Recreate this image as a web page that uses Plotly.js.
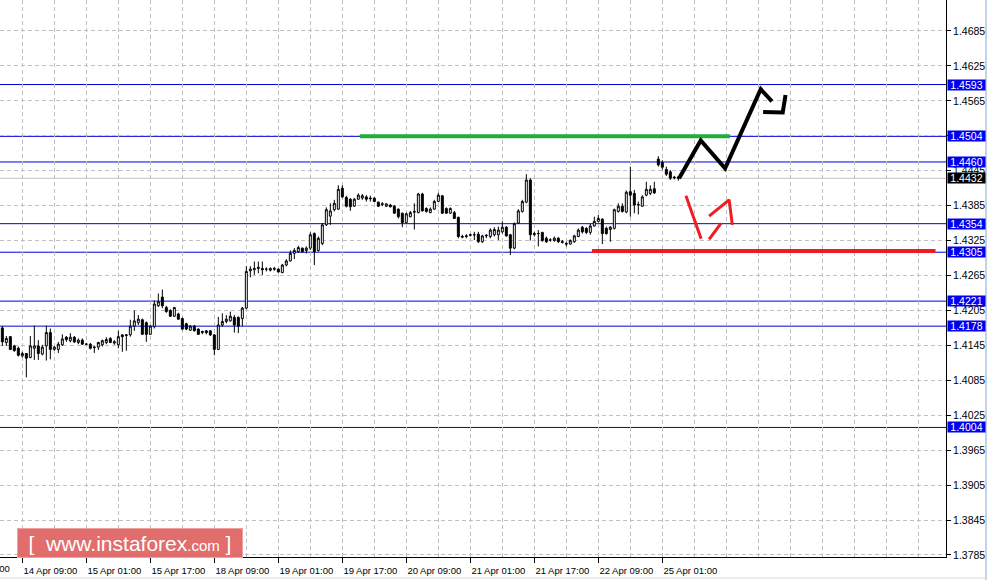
<!DOCTYPE html>
<html><head><meta charset="utf-8">
<script src="https://cdn.plot.ly/plotly-3.0.1.min.js"></script>
<style>html,body{margin:0;padding:0;background:#fff;} #chart{width:988px;height:580px;}</style>
</head><body><div id="chart"></div>
<script>
// H1 candles, oldest first (index 0 = 14 Apr 04:00)
const openP = [1.4175,1.4150,1.4160,1.4144,1.4140,1.4127,1.4131,1.4124,1.4140,1.4144,
1.4130,1.4144,1.4167,1.4138,1.4138,1.4146,1.4159,1.4153,1.4159,1.4150,
1.4154,1.4147,1.4147,1.4141,1.4142,1.4146,1.4150,1.4157,1.4149,1.4146,
1.4163,1.4162,1.4163,1.4178,1.4184,1.4189,1.4184,1.4164,1.4177,1.4213,
1.4228,1.4210,1.4205,1.4195,1.4199,1.4191,1.4182,1.4171,1.4178,1.4173,
1.4167,1.4170,1.4170,1.4163,1.4138,1.4180,1.4186,1.4187,1.4193,1.4193,
1.4191,1.4209,1.4273,1.4275,1.4277,1.4277,1.4276,1.4274,1.4277,1.4276,
1.4270,1.4283,1.4290,1.4303,1.4306,1.4312,1.4308,1.4312,1.4337,1.4308,
1.4320,1.4352,1.4367,1.4378,1.4379,1.4415,1.4399,1.4396,1.4384,1.4396,
1.4398,1.4400,1.4398,1.4398,1.4391,1.4387,1.4384,1.4386,1.4384,1.4379,
1.4372,1.4356,1.4366,1.4375,1.4373,1.4405,1.4380,1.4373,1.4379,1.4392,
1.4402,1.4380,1.4372,1.4373,1.4365,1.4332,1.4332,1.4334,1.4335,1.4336,
1.4323,1.4333,1.4332,1.4335,1.4335,1.4340,1.4348,1.4335,1.4312,1.4355,
1.4375,1.4391,1.4429,1.4335,1.4337,1.4339,1.4329,1.4326,1.4325,1.4329,
1.4323,1.4320,1.4319,1.4323,1.4332,1.4348,1.4346,1.4339,1.4350,1.4358,
1.4362,1.4346,1.4344,1.4346,1.4375,1.4384,1.4374,1.4409,1.4406,1.4386,
1.4384,1.4403,1.4406,1.4414,1.4465,1.4459,1.4447,1.4443,1.4434,1.4434];
const highP = [1.4178,1.4161,1.4161,1.4146,1.4143,1.4134,1.4132,1.4161,1.4179,1.4154,
1.4146,1.4179,1.4174,1.4144,1.4151,1.4164,1.4161,1.4166,1.4161,1.4157,
1.4157,1.4149,1.4149,1.4144,1.4151,1.4155,1.4159,1.4159,1.4154,1.4170,
1.4164,1.4164,1.4189,1.4205,1.4197,1.4191,1.4186,1.4180,1.4222,1.4234,
1.4241,1.4213,1.4207,1.4211,1.4201,1.4193,1.4184,1.4180,1.4180,1.4174,
1.4170,1.4171,1.4171,1.4164,1.4194,1.4200,1.4197,1.4203,1.4197,1.4195,
1.4211,1.4281,1.4281,1.4289,1.4289,1.4289,1.4279,1.4279,1.4280,1.4277,
1.4285,1.4293,1.4308,1.4312,1.4316,1.4313,1.4315,1.4339,1.4339,1.4332,
1.4355,1.4382,1.4389,1.4395,1.4420,1.4420,1.4402,1.4398,1.4398,1.4406,
1.4405,1.4403,1.4402,1.4399,1.4392,1.4391,1.4389,1.4388,1.4386,1.4380,
1.4373,1.4373,1.4376,1.4389,1.4407,1.4407,1.4382,1.4382,1.4395,1.4407,
1.4403,1.4382,1.4382,1.4376,1.4366,1.4335,1.4336,1.4337,1.4340,1.4340,
1.4335,1.4336,1.4346,1.4348,1.4349,1.4358,1.4350,1.4336,1.4356,1.4379,
1.4395,1.4439,1.4432,1.4340,1.4343,1.4340,1.4332,1.4329,1.4332,1.4331,
1.4326,1.4323,1.4327,1.4335,1.4346,1.4350,1.4348,1.4354,1.4366,1.4369,
1.4363,1.4349,1.4350,1.4380,1.4389,1.4389,1.4411,1.4452,1.4412,1.4392,
1.4403,1.4426,1.4420,1.4426,1.4470,1.4463,1.4452,1.4446,1.4436,1.4436];
const lowP = [1.4144,1.4144,1.4137,1.4134,1.4126,1.4124,1.4090,1.4123,1.4120,1.4120,
1.4128,1.4119,1.4121,1.4136,1.4132,1.4144,1.4151,1.4150,1.4149,1.4147,
1.4146,1.4146,1.4138,1.4132,1.4137,1.4143,1.4147,1.4149,1.4146,1.4140,
1.4134,1.4136,1.4160,1.4170,1.4180,1.4163,1.4151,1.4163,1.4174,1.4211,
1.4209,1.4201,1.4194,1.4194,1.4189,1.4171,1.4171,1.4170,1.4169,1.4163,
1.4164,1.4164,1.4161,1.4128,1.4137,1.4177,1.4183,1.4186,1.4167,1.4166,
1.4178,1.4207,1.4262,1.4266,1.4269,1.4266,1.4272,1.4272,1.4273,1.4270,
1.4269,1.4281,1.4289,1.4293,1.4304,1.4304,1.4303,1.4309,1.4283,1.4306,
1.4317,1.4350,1.4352,1.4375,1.4378,1.4398,1.4382,1.4376,1.4383,1.4395,
1.4395,1.4392,1.4392,1.4391,1.4383,1.4384,1.4383,1.4382,1.4371,1.4363,
1.4348,1.4355,1.4365,1.4344,1.4372,1.4375,1.4373,1.4372,1.4378,1.4391,
1.4371,1.4371,1.4371,1.4362,1.4329,1.4329,1.4329,1.4332,1.4326,1.4321,
1.4321,1.4329,1.4329,1.4332,1.4326,1.4337,1.4332,1.4300,1.4310,1.4354,
1.4373,1.4389,1.4325,1.4332,1.4315,1.4323,1.4321,1.4323,1.4323,1.4321,
1.4320,1.4315,1.4318,1.4321,1.4331,1.4337,1.4336,1.4335,1.4349,1.4356,
1.4319,1.4335,1.4323,1.4344,1.4373,1.4373,1.4372,1.4366,1.4372,1.4370,
1.4383,1.4401,1.4403,1.4405,1.4452,1.4447,1.4436,1.4429,1.4430,1.4428];
const closeP = [1.4151,1.4157,1.4138,1.4136,1.4128,1.4131,1.4123,1.4144,1.4144,1.4131,
1.4142,1.4167,1.4138,1.4142,1.4147,1.4156,1.4155,1.4159,1.4151,1.4154,
1.4147,1.4147,1.4140,1.4142,1.4150,1.4153,1.4155,1.4150,1.4151,1.4160,
1.4160,1.4163,1.4178,1.4187,1.4190,1.4164,1.4164,1.4178,1.4216,1.4220,
1.4213,1.4203,1.4195,1.4210,1.4190,1.4173,1.4173,1.4178,1.4170,1.4164,
1.4169,1.4167,1.4163,1.4138,1.4180,1.4186,1.4190,1.4195,1.4180,1.4178,
1.4209,1.4272,1.4276,1.4277,1.4279,1.4275,1.4276,1.4277,1.4276,1.4271,
1.4283,1.4290,1.4303,1.4308,1.4313,1.4306,1.4312,1.4335,1.4306,1.4329,
1.4352,1.4378,1.4376,1.4389,1.4413,1.4400,1.4384,1.4383,1.4396,1.4403,
1.4402,1.4396,1.4397,1.4392,1.4384,1.4388,1.4388,1.4383,1.4372,1.4366,
1.4356,1.4371,1.4373,1.4374,1.4405,1.4376,1.4375,1.4379,1.4392,1.4403,
1.4372,1.4372,1.4380,1.4363,1.4332,1.4331,1.4333,1.4335,1.4335,1.4323,
1.4333,1.4334,1.4343,1.4344,1.4343,1.4348,1.4333,1.4312,1.4354,1.4376,
1.4392,1.4429,1.4335,1.4337,1.4337,1.4325,1.4323,1.4326,1.4329,1.4323,
1.4322,1.4319,1.4325,1.4333,1.4343,1.4340,1.4339,1.4350,1.4358,1.4363,
1.4337,1.4337,1.4348,1.4378,1.4384,1.4375,1.4408,1.4403,1.4386,1.4387,
1.4400,1.4413,1.4413,1.4407,1.4455,1.4451,1.4439,1.4432,1.4433,1.4432];

// time axis: candle index of each labelled tick
const tickIndex = [5,21,37,53,69,85,101,117,133,149,165];
const tickLabels = ["14 Apr 09:00","15 Apr 01:00","15 Apr 17:00","18 Apr 09:00","19 Apr 01:00",
  "19 Apr 17:00","20 Apr 09:00","21 Apr 01:00","21 Apr 17:00","22 Apr 09:00","25 Apr 01:00"];
const hiddenTickIndex = -11, hiddenTickLabel = "13 Apr 17:00";

// price axis ticks (1.4505 label sits under the 1.4504 marker, so it is left blank)
const priceTicks = [1.3785,1.3845,1.3905,1.3965,1.4025,1.4085,1.4145,1.4205,1.4265,1.4325,
  1.4385,1.4445,1.4505,1.4565,1.4625,1.4685];
const priceTickLabels = ["1.3785","1.3845","1.3905","1.3965","1.4025","1.4085","1.4145","1.4205","1.4265","1.4325",
  "1.4385","1.4445","","1.4565","1.4625","1.4685"];

// horizontal levels
const levelValues = [1.4593,1.4504,1.4460,1.4354,1.4305,1.4221,1.4178,1.4004];
const levelLabels = ["1.4593","1.4504","1.4460","1.4354","1.4305","1.4221","1.4178","1.4004"];
const currentPrice = 1.4432, currentLabel = "1.4432";

// analyst drawings (candle index, price)
const greenLineX = [89.4,181.9], greenLineY = [1.4504,1.4504];
const redLineX = [147.4,233.3], redLineY = [1.4307,1.4307];
const blackPathAX = [169.2,174.6,180.7,189.6,192.4], blackPathAY = [1.4432,1.4497,1.4449,1.4585,1.4564];
const blackPathBX = [190.2,195.1,195.8], blackPathBY = [1.4546,1.4545,1.4575];
const redPathAX = [170.9,174.7], redPathAY = [1.4402,1.4328];
const redPathBX = [176.7,179.7], redPathBY = [1.4327,1.4355];
const redPathCX = [176.7,181.7,182.5], redPathCY = [1.4367,1.4395,1.4352];

const X0 = -0.583, X1 = 235.92, Y0 = 1.37815, Y1 = 1.47382;
const idx = openP.map((_, i) => i);
const GRID = '#c0c0c0';
const FONT = 'Liberation Sans, Arial, sans-serif';

const traces = [
  {type:'candlestick', x: idx, open: openP, high: highP, low: lowP, close: closeP,
   increasing:{line:{color:'#000', width:1}, fillcolor:'#ffffff'},
   decreasing:{line:{color:'#000', width:1}, fillcolor:'#000000'},
   whiskerwidth:0, hoverinfo:'skip', showlegend:false},
  {type:'scatter', mode:'lines', x: greenLineX, y: greenLineY, line:{color:'#1fae3c', width:4}, hoverinfo:'skip', showlegend:false},
  {type:'scatter', mode:'lines', x: redLineX, y: redLineY, line:{color:'#ee1c24', width:4}, hoverinfo:'skip', showlegend:false},
  {type:'scatter', mode:'lines', x: blackPathAX, y: blackPathAY, line:{color:'#000', width:4}, hoverinfo:'skip', showlegend:false},
  {type:'scatter', mode:'lines', x: blackPathBX, y: blackPathBY, line:{color:'#000', width:4}, hoverinfo:'skip', showlegend:false},
  {type:'scatter', mode:'lines', x: redPathAX, y: redPathAY, line:{color:'#ee1c24', width:3}, hoverinfo:'skip', showlegend:false},
  {type:'scatter', mode:'lines', x: redPathBX, y: redPathBY, line:{color:'#ee1c24', width:3}, hoverinfo:'skip', showlegend:false},
  {type:'scatter', mode:'lines', x: redPathCX, y: redPathCY, line:{color:'#ee1c24', width:3}, hoverinfo:'skip', showlegend:false}
];

const shapes = [];
levelValues.forEach(v => shapes.push({type:'line', xref:'paper', x0:0, x1:1, yref:'y', y0:v, y1:v,
  line:{color:'#0000dd', width:1}, layer:'below'}));
shapes.push({type:'line', xref:'paper', x0:0, x1:1, yref:'y', y0:currentPrice, y1:currentPrice,
  line:{color:'#c0c0c0', width:1}, layer:'below'});
// window frame
shapes.push({type:'line', xref:'paper', x0:986/946, x1:986/946, yref:'paper', y0:-23/557, y1:1, line:{color:'#8aa6cc', width:1}});
shapes.push({type:'line', xref:'paper', x0:0, x1:986/946, yref:'paper', y0:-21/557, y1:-21/557, line:{color:'#d8d8d8', width:1}});

const annotations = [];
levelValues.forEach((v, i) => annotations.push({xref:'paper', x:1, xanchor:'left', xshift:1,
  yref:'y', y:v, yanchor:'middle', text: levelLabels[i], showarrow:false,
  font:{family:FONT, size:10.5, color:'#fff'}, bgcolor:'#0000f0', width:37, height:10, borderpad:0, align:'center'}));
annotations.push({xref:'paper', x:1, xanchor:'left', xshift:1, yref:'y', y:currentPrice, yanchor:'middle',
  text: currentLabel, showarrow:false, font:{family:FONT, size:10.5, color:'#fff'}, bgcolor:'#000',
  width:37, height:10, borderpad:0, align:'center'});
annotations.push({xref:'paper', x:(hiddenTickIndex - X0)/(X1 - X0), xanchor:'left', xshift:-4,
  yref:'paper', y:0, yanchor:'top', yshift:-4, text: hiddenTickLabel, showarrow:false,
  font:{family:FONT, size:9.5, color:'#000'}});
annotations.push({xref:'paper', x:17/946, xanchor:'left', yref:'paper', y:0, yanchor:'bottom', yshift:-1,
  text:"[&nbsp;&nbsp;www.instaforex<span style='font-size:15px'>.com</span>&nbsp;]",
  showarrow:false, font:{family:FONT, size:21, color:'#ffffff'},
  bgcolor:'rgba(224,98,98,0.93)', bordercolor:'#eea0a0', borderwidth:1, borderpad:0,
  width:224, height:28, align:'center'});

const layout = {
  width:988, height:580, margin:{l:0, r:42, t:0, b:23, pad:0},
  paper_bgcolor:'#fff', plot_bgcolor:'#fff', showlegend:false, dragmode:false,
  boxgap:0.3,
  xaxis:{range:[X0, X1], type:'linear', tickmode:'array', tickvals: tickIndex, ticktext: tickLabels,
    ticks:'outside', ticklen:5, tickcolor:'#000', tickwidth:1,
    showgrid:true, gridcolor:GRID, griddash:'4px,3px', gridwidth:1,
    showline:true, linecolor:'#000', linewidth:1, zeroline:false,
    tickfont:{family:FONT, size:9.5, color:'#000'}, ticklabelshift:28, tickangle:0,
    rangeslider:{visible:false}, fixedrange:true,
    minor:{tickmode:'linear', tick0:5, dtick:8, showgrid:true, gridcolor:GRID, griddash:'4px,3px', gridwidth:1, ticks:''}},
  yaxis:{side:'right', range:[Y0, Y1], tickmode:'array', tickvals: priceTicks, ticktext: priceTickLabels,
    ticks:'outside', ticklen:4, tickcolor:'#000',
    showgrid:true, gridcolor:GRID, griddash:'4px,3px', gridwidth:1,
    showline:true, linecolor:'#000', linewidth:1, zeroline:false,
    tickfont:{family:FONT, size:10.5, color:'#000'}, fixedrange:true},
  shapes: shapes, annotations: annotations
};

Plotly.newPlot('chart', traces, layout, {staticPlot:true, displayModeBar:false});
</script></body></html>
